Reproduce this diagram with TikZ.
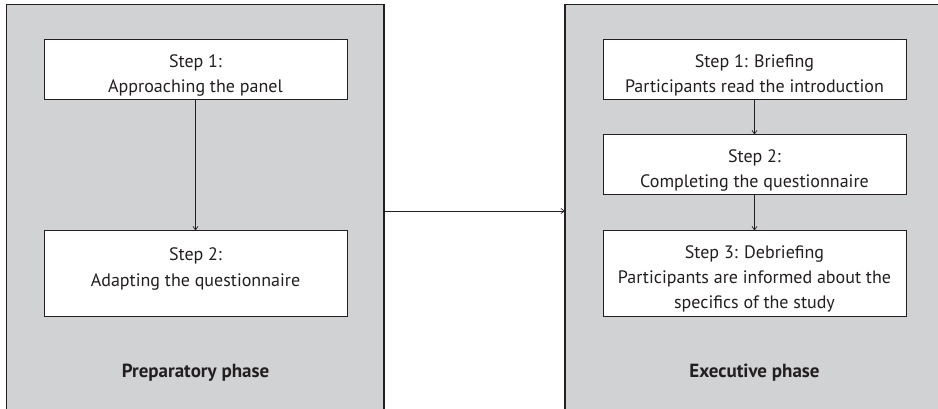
\documentclass[tikz,border=0pt]{standalone}
\usepackage{fontspec}
\setmainfont{PT Sans}
\usetikzlibrary{arrows.meta}
\definecolor{panelgray}{HTML}{D1D2D4}
\definecolor{ink}{HTML}{231F20}
\begin{document}
\begin{tikzpicture}[x=1pt,y=-1pt,
  phase/.style={draw=ink,line width=1.2pt,fill=panelgray},
  stepbox/.style={draw=ink,line width=1pt,fill=white,minimum width=303pt,inner sep=0pt},
  steptext/.style={align=center,inner sep=0pt,yshift=-5.5pt,
    font=\fontsize{18}{25}\selectfont,text=ink},
  phaselabel/.style={font=\fontsize{19}{22}\selectfont\bfseries,text=ink},
  flow/.style={draw=ink,line width=0.7pt,-{Straight Barb[length=3.5pt,width=5pt]}}]
\useasboundingbox (0,0) rectangle (938,409);
% panels
\draw[phase] (6.5,4.5) rectangle (384,420);
\draw[phase] (565,4.5) rectangle (950,420);
% preparatory phase
\node[stepbox,minimum height=60pt,
  label={[steptext]center:{Step 1:\\Approaching the panel}}] (p1) at (195.5,70) {};
\node[stepbox,minimum height=85pt,
  label={[steptext,yshift=10pt]center:{Step 2:\\Adapting the questionnaire}}] (p2) at (195.5,273.5) {};
\node[phaselabel] (pl) at (195.5,372.5) {Preparatory phase};
% executive phase
\node[stepbox,minimum height=60pt,
  label={[steptext]center:{Step 1: Briefing\\Participants read the introduction}}] (e1) at (754.5,70) {};
\node[stepbox,minimum height=60pt,
  label={[steptext]center:{Step 2:\\Completing the questionnaire}}] (e2) at (754.5,165) {};
\node[stepbox,minimum height=85pt,
  label={[steptext]center:{Step 3: Debriefing\\Participants are informed about the\\specifics of the study}}] (e3) at (754.5,273.5) {};
\node[phaselabel] (el) at (754.5,372.5) {Executive phase};
% connectors
\coordinate (lp) at (384,211);
\coordinate (rp) at (565,211);
\draw[flow] (p1) -- (p2);
\draw[flow] (e1) -- (e2);
\draw[flow] (e2) -- (e3);
\draw[flow] (lp) -- (rp);
\end{tikzpicture}
\end{document}
